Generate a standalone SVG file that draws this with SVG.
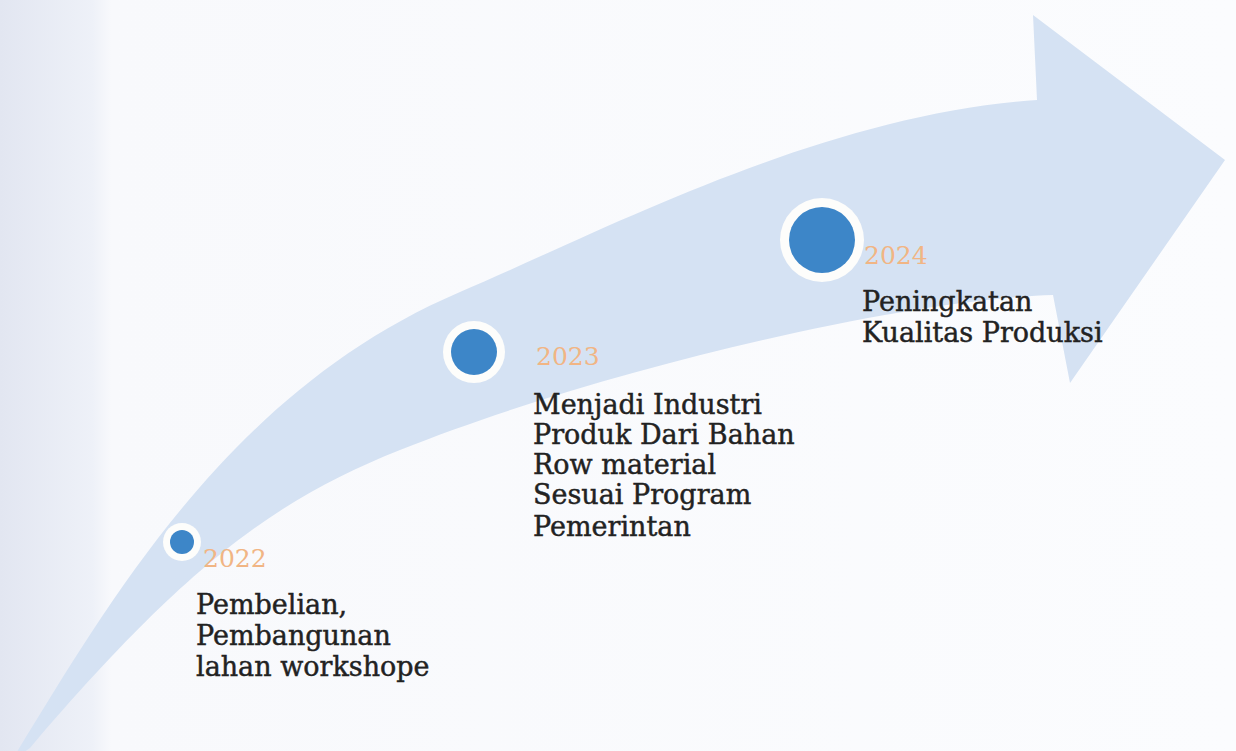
<svg xmlns="http://www.w3.org/2000/svg" width="1236" height="751" viewBox="0 0 1236 751">
  <defs>
    <linearGradient id="bg" x1="0" y1="0" x2="1" y2="0">
      <stop offset="0" stop-color="#e2e6f1"/>
      <stop offset="0.075" stop-color="#eef1f8"/>
      <stop offset="0.09" stop-color="#f8f9fc"/>
      <stop offset="1" stop-color="#fbfcfe"/>
    </linearGradient>
    <style>
      .band { fill: #d5e2f3; }
      .ring { fill: #fdfdfb; }
      .dot { fill: #3d86c8; }
      .year { font-family: "DejaVu Serif", "Liberation Serif", serif; font-size: 25px; fill: #f1b584; }
      .desc { font-family: "DejaVu Serif", "Liberation Serif", serif; font-size: 27px; fill: #222222; stroke: #222222; stroke-width: 0.45px; }
    </style>
  </defs>
  <rect x="0" y="0" width="1236" height="751" fill="url(#bg)"/>

  <g id="connectors">
    <path id="arrow" class="band" d="M 12 760
      C 110 600, 230 390, 460 292
      C 600 232.4, 820 115, 1037 100
      L 1033 15 L 1225 160 L 1070 383 L 1053 295
      C 900 300, 600 370, 400 450
      C 280 498, 190 560, 30 748
      Z"/>
  </g>

  <g id="node-2022">
    <circle class="ring" cx="182" cy="542" r="19"/>
    <circle class="dot" cx="182" cy="542" r="12"/>
    <text class="year" x="203" y="567">2022</text>
    <text class="desc" x="196" y="614">Pembelian,</text>
    <text class="desc" x="196" y="645">Pembangunan</text>
    <text class="desc" x="196" y="676">lahan workshope</text>
  </g>

  <g id="node-2023">
    <circle class="ring" cx="474" cy="352" r="31"/>
    <circle class="dot" cx="474" cy="352" r="23"/>
    <text class="year" x="536" y="365">2023</text>
    <text class="desc" x="533" y="414">Menjadi Industri</text>
    <text class="desc" x="533" y="444">Produk Dari Bahan</text>
    <text class="desc" x="533" y="474">Row material</text>
    <text class="desc" x="533" y="504">Sesuai Program</text>
    <text class="desc" x="533" y="536">Pemerintan</text>
  </g>

  <g id="node-2024">
    <circle class="ring" cx="822" cy="240" r="42"/>
    <circle class="dot" cx="822" cy="240" r="33"/>
    <text class="year" x="864" y="264">2024</text>
    <text class="desc" x="862" y="311">Peningkatan</text>
    <text class="desc" x="862" y="342">Kualitas Produksi</text>
  </g>
</svg>
